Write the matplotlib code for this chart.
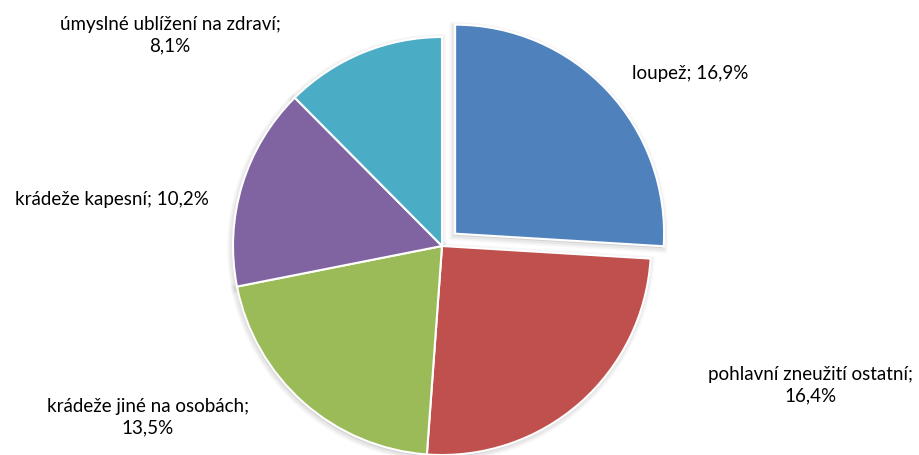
import matplotlib
matplotlib.use("Agg")
import matplotlib.pyplot as plt
from matplotlib.patches import Wedge

categories = ["loupež", "pohlavní zneužití ostatní", "krádeže jiné na osobách",
              "krádeže kapesní", "úmyslné ublížení na zdraví"]
values = [16.9, 16.4, 13.5, 10.2, 8.1]
label_texts = ["loupež; 16,9%", "pohlavní zneužití ostatní;\n16,4%",
               "krádeže jiné na osobách;\n13,5%", "krádeže kapesní; 10,2%",
               "úmyslné ublížení na zdraví;\n8,1%"]
colors = ["#4F81BD", "#C0504D", "#9BBB59", "#8064A2", "#4BACC6"]
explode = [18, 0, 0, 0, 0]

plt.rcParams['font.family'] = ['Lato', 'DejaVu Sans']

W, H = 919, 456
fig = plt.figure(figsize=(W / 100, H / 100), dpi=100)
ax = fig.add_axes([0, 0, 1, 1])
cx, cy, R = 442, 209, 209

wedges, _ = ax.pie(values, colors=colors, startangle=90, counterclock=False,
                   explode=explode, center=(cx, cy), radius=R,
                   wedgeprops=dict(edgecolor="white", linewidth=1.5, zorder=2))

# soft shadows behind wedges
for w in wedges:
    for lw, a in [(7, 0.05), (5, 0.06), (3, 0.08)]:
        sh = Wedge((w.center[0] - 1, w.center[1] - 2), w.r, w.theta1, w.theta2,
                   facecolor="gray", edgecolor="gray", linewidth=lw, alpha=a, zorder=0)
        ax.add_patch(sh)

label_pos = [(690, 383), (810, 71), (148, 39), (112, 256), (170, 421)]
for txt, (x, y) in zip(label_texts, label_pos):
    ax.text(x, y, txt, ha="center", va="center", fontsize=13.5, color="black",
            linespacing=1.35)

ax.set_xlim(0, W)
ax.set_ylim(0, H)
ax.set_aspect("equal")
ax.axis("off")
fig.savefig("out.png", dpi=100)
